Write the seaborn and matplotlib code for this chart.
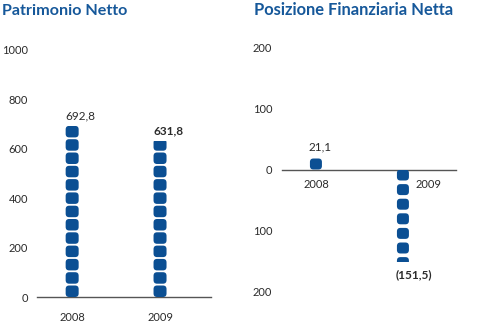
import math
import numpy as np
import pandas as pd
import seaborn as sns
import matplotlib.pyplot as plt
from matplotlib.patches import FancyBboxPatch
from matplotlib.transforms import ScaledTranslation

# Data
years = ["2008", "2009"]
patrimonio = [692.8, 631.8]
posizione = [21.1, -151.5]
patrimonio_labels = ["692,8", "631,8"]
posizione_labels = ["21,1", "(151,5)"]
patrimonio_ticks = [0, 200, 400, 600, 800, 1000]
posizione_ticks = [-200, -100, 0, 100, 200]
posizione_ticklabels = ["200", "100", "0", "100", "200"]

BLUE = "#0b4f93"
TITLE_BLUE = "#16589a"
TEXT = "#2b2b2b"
AXIS = "#555555"

sns.set_theme(style="white")
plt.rcParams["font.family"] = ["Lato", "DejaVu Sans"]

W, H, DPI = 480, 330, 100
fig = plt.figure(figsize=(W / DPI, H / DPI), dpi=DPI)


def px(v):
    """pixels -> inches"""
    return v / DPI


def dotted_bars(ax, values, labels, dot_w, dot_h, pitch, bold_last=True):
    """Seaborn bars rendered as a column of rounded tiles clipped to each bar."""
    df = pd.DataFrame({"anno": years, "valore": values})
    sns.barplot(data=df, x="anno", y="valore", ax=ax, color=BLUE, width=0.3)
    fig.canvas.draw()
    bars = list(ax.patches)
    for i, bar in enumerate(bars):
        bar.set_facecolor("none")
        bar.set_edgecolor("none")
        xc = bar.get_x() + bar.get_width() / 2
        hgt = bar.get_height()
        sign = 1 if hgt >= 0 else -1
        p0 = ax.transData.transform((xc, 0))
        p1 = ax.transData.transform((xc, hgt))
        length = abs(p1[1] - p0[1])
        n = int(math.ceil(length / pitch))
        trans = fig.dpi_scale_trans + ScaledTranslation(xc, 0, ax.transData)
        for k in range(n):
            if sign > 0:
                y0 = k * pitch
            else:
                y0 = -(k * pitch + dot_h)
            dot = FancyBboxPatch((px(-dot_w / 2), px(y0)), px(dot_w), px(dot_h),
                                 boxstyle=f"round,pad=0,rounding_size={px(3.5)}",
                                 transform=trans, facecolor=BLUE,
                                 edgecolor="none", zorder=3)
            ax.add_patch(dot)
            dot.set_clip_path(bar)
        weight = "bold" if (bold_last and i == len(values) - 1) else "normal"
        if sign > 0:
            ax.annotate(labels[i], xy=(xc, hgt), xytext=(-5, 3),
                        textcoords="offset points", ha="left", va="bottom",
                        fontsize=8.5, color=TEXT, fontweight=weight)
        else:
            ax.annotate(labels[i], xy=(xc, hgt), xytext=(-5, -5),
                        textcoords="offset points", ha="left", va="top",
                        fontsize=8.5, color=TEXT, fontweight=weight)


def style_axis(ax):
    for s in ["left", "right", "top"]:
        ax.spines[s].set_visible(False)
    ax.spines["bottom"].set_color(AXIS)
    ax.spines["bottom"].set_linewidth(1.0)
    ax.set_xlabel("")
    ax.set_ylabel("")
    ax.grid(False)


# Left panel: Patrimonio Netto
ax1 = fig.add_axes([37 / W, (H - 297) / H, (211 - 37) / W, (297 - 50) / H])
ax1.set_xlim(-0.40, 1.58)
ax1.set_ylim(0, 1000)
dotted_bars(ax1, patrimonio, patrimonio_labels, dot_w=13, dot_h=11.5, pitch=13.3)
ax1.set_xlim(-0.40, 1.58)
ax1.set_ylim(0, 1000)
ax1.set_yticks(patrimonio_ticks)
ax1.set_yticklabels([str(t) for t in patrimonio_ticks])
style_axis(ax1)
ax1.tick_params(axis="y", length=0, pad=6.5, labelsize=8, labelcolor=TEXT)
ax1.tick_params(axis="x", length=0, pad=11, labelsize=8, labelcolor=TEXT)

# Right panel: Posizione Finanziaria Netta
ax2 = fig.add_axes([282 / W, (H - 292) / H, (456 - 282) / W, (292 - 47) / H])
ax2.set_xlim(-0.39, 1.61)
ax2.set_ylim(-200, 200)
dotted_bars(ax2, posizione, posizione_labels, dot_w=12, dot_h=11, pitch=14.6)
ax2.set_xlim(-0.39, 1.61)
ax2.set_ylim(-200, 200)
ax2.set_yticks(posizione_ticks)
ax2.set_yticklabels(posizione_ticklabels)
style_axis(ax2)
ax2.spines["bottom"].set_position(("data", 0))
ax2.tick_params(axis="y", length=0, pad=7, labelsize=8, labelcolor=TEXT)
ax2.tick_params(axis="x", length=0, pad=7, labelsize=8, labelcolor=TEXT)
# the year of the negative bar sits beside it
lbl = ax2.get_xticklabels()[1]
lbl.set_transform(lbl.get_transform() + ScaledTranslation(px(26), 0, fig.dpi_scale_trans))

# Titles
fig.text(2 / W, 1 - 15 / H, "Patrimonio Netto", fontsize=11.6, fontweight="bold",
         color=TITLE_BLUE, va="baseline", ha="left")
fig.text(254 / W, 1 - 15 / H, "Posizione Finanziaria Netta", fontsize=11.9,
         fontweight="bold", color=TITLE_BLUE, va="baseline", ha="left")

fig.savefig("out.png", dpi=DPI, facecolor="white")
